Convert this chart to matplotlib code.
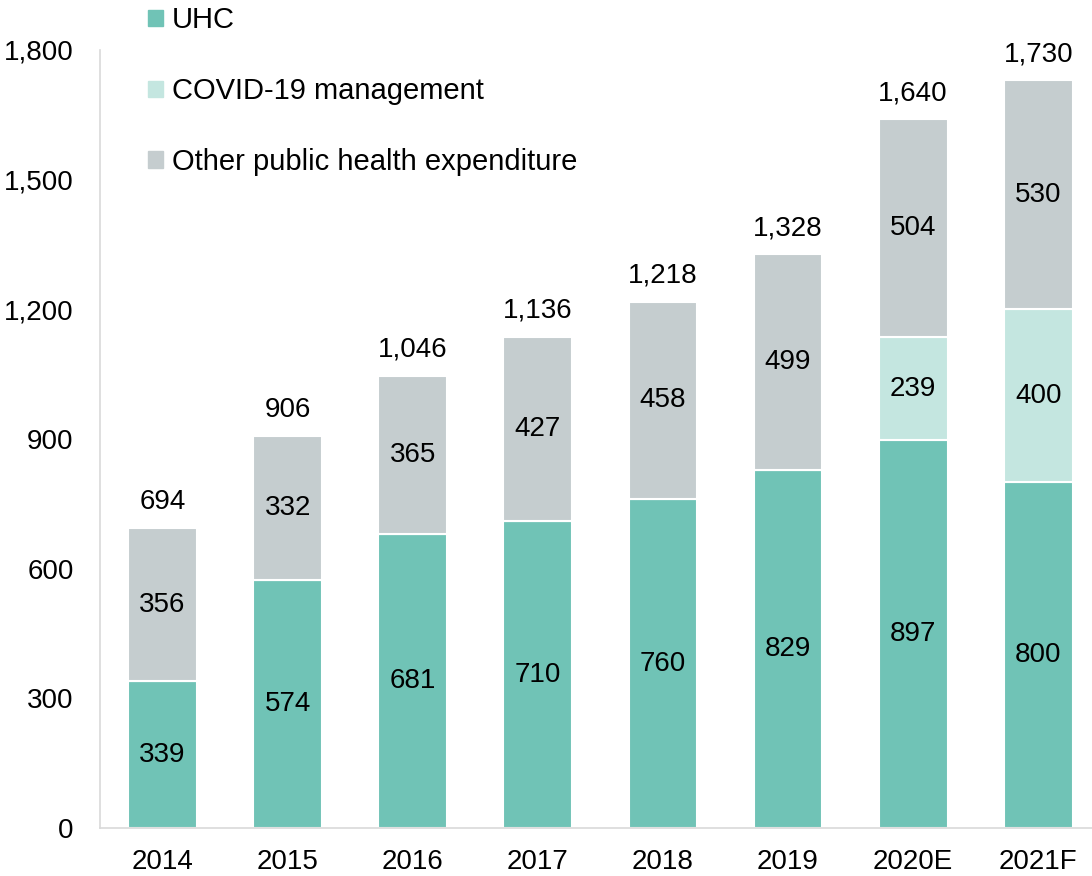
import matplotlib.pyplot as plt
from matplotlib.patches import Patch

plt.rcParams['font.family'] = ['Liberation Sans', 'DejaVu Sans']

years = ['2014', '2015', '2016', '2017', '2018', '2019', '2020E', '2021F']
uhc = [339, 574, 681, 710, 760, 829, 897, 800]
covid = [0, 0, 0, 0, 0, 0, 239, 400]
other = [356, 332, 365, 427, 458, 499, 504, 530]
totals = [694, 906, 1046, 1136, 1218, 1328, 1640, 1730]

c_uhc = '#70c3b6'
c_covid = '#c4e6e0'
c_other = '#c5cdcf'

fig = plt.figure(figsize=(10.92, 8.76), dpi=100)
ax = fig.add_axes([0.0916, 0.0548, 0.9084, 0.8882])

x = list(range(len(years)))
w = 0.55
ax.bar(x, uhc, w, color=c_uhc, edgecolor='white', linewidth=1.5)
ax.bar(x, covid, w, bottom=uhc, color=c_covid, edgecolor='white', linewidth=1.5)
bot2 = [a + b for a, b in zip(uhc, covid)]
ax.bar(x, other, w, bottom=bot2, color=c_other, edgecolor='white', linewidth=1.5)

fs = 20
for i in x:
    ax.text(i, uhc[i] / 2, f'{uhc[i]}', ha='center', va='center', fontsize=fs)
    if covid[i]:
        ax.text(i, uhc[i] + covid[i] / 2, f'{covid[i]}', ha='center', va='center', fontsize=fs)
    ax.text(i, bot2[i] + other[i] / 2, f'{other[i]}', ha='center', va='center', fontsize=fs)
    ax.text(i, bot2[i] + other[i] + 60, f'{totals[i]:,}', ha='center', va='center', fontsize=fs)

ax.set_ylim(0, 1800)
ax.set_xlim(-0.5, 7.43)
ax.set_yticks(range(0, 1801, 300))
ax.set_yticklabels([f'{v:,}' for v in range(0, 1801, 300)])
ax.set_xticks(x)
ax.set_xticklabels(years)
ax.tick_params(length=0, labelsize=fs)
ax.tick_params(axis='x', pad=15)
ax.tick_params(axis='y', pad=19)
for s in ['top', 'right']:
    ax.spines[s].set_visible(False)
for s in ['left', 'bottom']:
    ax.spines[s].set_color('#d9d9d9')
    ax.spines[s].set_linewidth(1.2)

handles = [Patch(color=c_uhc), Patch(color=c_covid), Patch(color=c_other)]
fig.legend(handles, ['UHC', 'COVID-19 management', 'Other public health expenditure'],
           loc='upper left', bbox_to_anchor=(0.125, 1.006), frameon=False,
           fontsize=21, handlelength=0.5, handleheight=0.5, handletextpad=0.3,
           labelspacing=1.47, borderaxespad=0)

fig.savefig('out.png', dpi=100)
